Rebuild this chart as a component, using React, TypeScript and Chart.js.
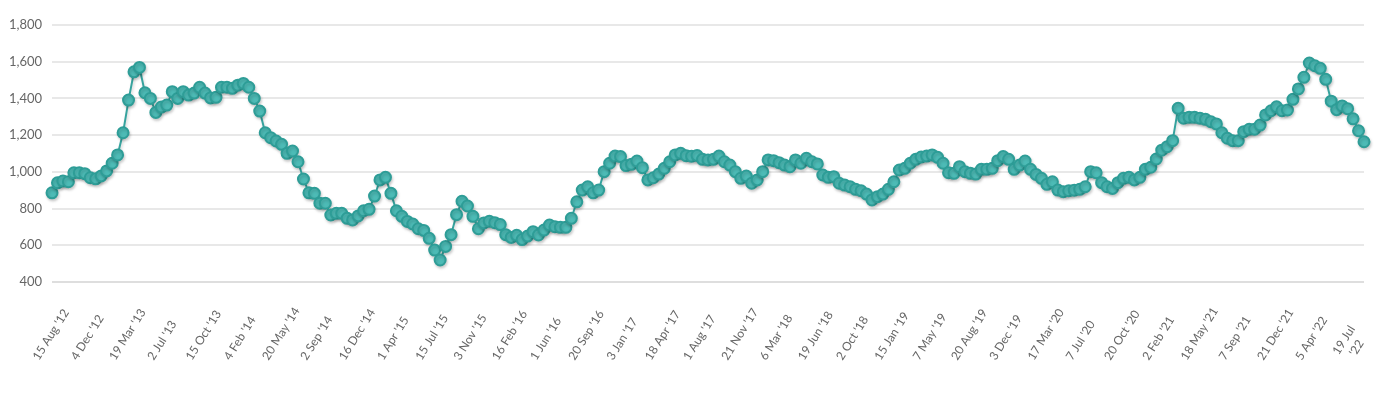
import React, { useEffect, useRef } from 'react';
import { Chart, registerables } from 'chart.js';

Chart.register(...registerables);

const tickLabels: string[] = [
  "15 Aug '12", "4 Dec '12", "19 Mar '13", "2 Jul '13", "15 Oct '13", "4 Feb '14",
  "20 May '14", "2 Sep '14", "16 Dec '14", "1 Apr '15", "15 Jul '15", "3 Nov '15",
  "16 Feb '16", "1 Jun '16", "20 Sep '16", "3 Jan '17", "18 Apr '17", "1 Aug '17",
  "21 Nov '17", "6 Mar '18", "19 Jun '18", "2 Oct '18", "15 Jan '19", "7 May '19",
  "20 Aug '19", "3 Dec '19", "17 Mar '20", "7 Jul '20", "20 Oct '20", "2 Feb '21",
  "18 May '21", "7 Sep '21", "21 Dec '21", "5 Apr '22", "19 Jul '22",
];

const TICK_EVERY = 7;

const values: number[] = [
  886, 940, 950, 946, 995, 995, 990, 968, 962, 978,
  1005, 1047, 1092, 1213, 1391, 1545, 1569, 1431, 1400, 1324,
  1353, 1364, 1437, 1400, 1437, 1418, 1429, 1461, 1429, 1403,
  1406, 1461, 1461, 1455, 1472, 1482, 1461, 1400, 1331, 1213,
  1186, 1168, 1150, 1101, 1113, 1055, 961, 886, 883, 829,
  829, 765, 774, 774, 747, 738, 760, 788, 796, 868,
  956, 970, 883, 788, 758, 730, 716, 690, 681, 638,
  574, 520, 594, 658, 767, 840, 814, 758, 690, 722,
  731, 723, 713, 658, 643, 654, 631, 650, 674, 656,
  683, 710, 701, 698, 698, 747, 837, 901, 919, 886,
  901, 1001, 1047, 1086, 1083, 1034, 1041, 1059, 1023, 956,
  968, 988, 1019, 1055, 1092, 1101, 1088, 1085, 1089, 1068,
  1065, 1068, 1086, 1055, 1037, 1001, 965, 977, 938, 956,
  1001, 1065, 1061, 1050, 1037, 1028, 1065, 1047, 1074, 1055,
  1043, 983, 970, 974, 938, 928, 919, 905, 897, 879,
  847, 865, 879, 905, 946, 1010, 1019, 1047, 1068, 1081,
  1086, 1092, 1079, 1047, 995, 992, 1028, 1001, 992, 988,
  1014, 1014, 1019, 1061, 1083, 1068, 1014, 1037, 1059, 1014,
  986, 965, 932, 946, 901, 892, 897, 900, 905, 919,
  1001, 995, 941, 919, 910, 941, 965, 970, 956, 970,
  1014, 1025, 1070, 1118, 1137, 1170, 1346, 1292, 1297, 1297,
  1292, 1286, 1273, 1261, 1213, 1183, 1170, 1170, 1219, 1232,
  1232, 1255, 1310, 1333, 1354, 1333, 1337, 1395, 1452, 1515,
  1593, 1578, 1564, 1504, 1385, 1339, 1359, 1344, 1289, 1224,
  1164,
];

const Y_MIN = 400;
const Y_MAX = 1800;
const Y_STEP = 200;

const categories: string[] = values.map((_, i) =>
  i % TICK_EVERY === 0 && tickLabels[i / TICK_EVERY] ? tickLabels[i / TICK_EVERY] : ''
);

const FONT = 'Lato, "Open Sans", sans-serif';
const TEXT_COLOR = '#666666';

const xLabelPlugin = {
  id: 'xLabelPlugin',
  afterDraw(chart: any) {
    const { ctx, chartArea } = chart;
    const x = chart.scales.x;
    const ang = (-58 * Math.PI) / 180;
    ctx.save();
    ctx.font = `12px ${FONT}`;
    ctx.fillStyle = TEXT_COLOR;
    ctx.textAlign = 'left';
    ctx.textBaseline = 'alphabetic';
    categories.forEach((lab, i) => {
      if (!lab) return;
      const px = x.getPixelForValue(i);
      const sx = px - 13;
      const sy = chartArea.bottom + 79;
      const w = ctx.measureText(lab).width;
      let lines = [lab];
      if (sx + w * Math.cos(ang) > chartArea.right) {
        const cut = lab.lastIndexOf(' ');
        lines = [lab.slice(0, cut), lab.slice(cut + 1)];
      }
      ctx.save();
      ctx.translate(sx, sy);
      ctx.rotate(ang);
      if (lines.length === 1) {
        ctx.fillText(lab, 0, 0);
      } else {
        const w0 = ctx.measureText(lines[0]).width;
        lines.forEach((ln, k) => {
          const lw = ctx.measureText(ln).width;
          ctx.fillText(ln, (w0 - lw) / 2 + 4, -4 + k * 15);
        });
      }
      ctx.restore();
    });
    ctx.restore();
  },
};

const shadowPlugin = {
  id: 'shadowPlugin',
  beforeDatasetsDraw(chart: any) {
    const c = chart.ctx;
    c.save();
    c.shadowColor = 'rgba(0,0,0,0.18)';
    c.shadowBlur = 3;
    c.shadowOffsetX = 1;
    c.shadowOffsetY = 2;
  },
  afterDatasetsDraw(chart: any) {
    chart.ctx.restore();
  },
};

export default function App() {
  const ref = useRef<HTMLCanvasElement | null>(null);

  useEffect(() => {
    if (!ref.current) return;
    const chart = new Chart(ref.current, {
      type: 'line',
      data: {
        labels: categories,
        datasets: [
          {
            data: values,
            borderColor: '#36a39e',
            borderWidth: 2,
            pointRadius: 5.5,
            pointHoverRadius: 5.5,
            pointBackgroundColor: '#4dbbb6',
            pointBorderColor: '#2e9d97',
            pointBorderWidth: 2,
            tension: 0,
            fill: false,
            clip: false as any,
          },
        ],
      },
      options: {
        responsive: false,
        animation: false,
        devicePixelRatio: 1,
        layout: { padding: { left: 0, right: 24, top: 25, bottom: 112 } },
        plugins: {
          legend: { display: false },
          tooltip: { enabled: false },
        },
        scales: {
          x: {
            type: 'category',
            display: false,
            offset: false,
          },
          y: {
            min: Y_MIN,
            max: Y_MAX,
            afterFit: (s: any) => {
              s.width = 52;
            },
            ticks: {
              stepSize: Y_STEP,
              padding: 10,
              color: TEXT_COLOR,
              font: { family: FONT, size: 13 },
              callback: (v: any) => Number(v).toLocaleString('en-US'),
            },
            grid: {
              drawTicks: false,
              lineWidth: 2,
              color: (c: any) => (c.tick && c.tick.value === Y_MIN ? '#dedede' : '#e8e8e8'),
            },
            border: { display: false },
          },
        },
      },
      plugins: [shadowPlugin, xLabelPlugin],
    });
    return () => chart.destroy();
  }, []);

  return (
    <div style={{ position: 'absolute', left: 0, top: 0, width: 1388, height: 394, background: '#fff' }}>
      <canvas ref={ref} width={1388} height={394} style={{ display: 'block' }} />
    </div>
  );
}
